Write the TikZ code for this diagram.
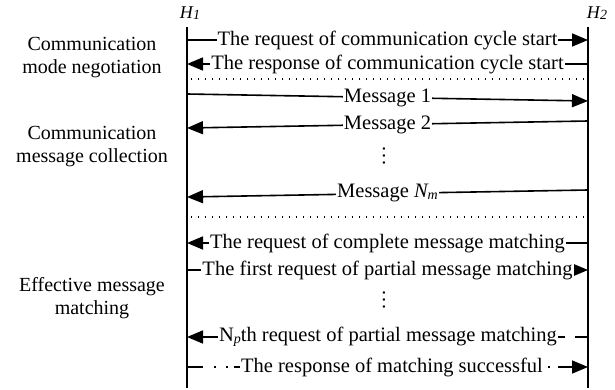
\documentclass[tikz,border=0pt]{standalone}
\usepackage{fontspec}
\setmainfont{Liberation Serif}
\usetikzlibrary{arrows.meta}

\begin{document}
\begin{tikzpicture}[x=1pt,y=-1pt,
  lifeline/.style={line width=1.8pt},
  msg/.style={line width=1.6pt},
  arr/.style={-{Triangle[length=16pt,width=13pt]}},
  lbl/.style={fill=white,inner xsep=1pt,inner ysep=2pt,font=\fontsize{20.5}{21}\selectfont},
  txt/.style={inner xsep=1pt,inner ysep=2pt,font=\fontsize{20.5}{21}\selectfont},
  vdot/.style={inner sep=0pt,rotate=-90,font=\fontsize{20}{20}\selectfont},
  phase/.style={align=center,font=\fontsize{20}{23}\selectfont},
  hostname/.style={font=\fontsize{18}{18}\selectfont\itshape},
  sep/.style={line width=1.3pt,dash pattern=on 1.3pt off 5.7pt},
]
\useasboundingbox (0,0) rectangle (615,390);

% hosts and lifelines
\node[hostname] (h1) at (190,13) {H\kern0.3pt\raisebox{-1.5pt}{\fontsize{14}{14}\selectfont 1}};
\node[hostname] (h2) at (597,13) {H\kern0.3pt\raisebox{-1.5pt}{\fontsize{14}{14}\selectfont 2}};
\coordinate (a1) at (187,27);
\coordinate (a2) at (187,388);
\coordinate (b1) at (588,27);
\coordinate (b2) at (588,388);
\draw[lifeline] (a1) -- (a2);
\draw[lifeline] (b1) -- (b2);

% phase labels
\node[phase] (p1) at (92,58) {Communication\\mode negotiation};
\node[phase] (p2) at (92,147) {Communication\\message collection};
\node[phase] (p3) at (92,298) {Effective message\\matching};

% phase 1: mode negotiation
\coordinate (l1) at (187,40);  \coordinate (r1) at (588,40);
\coordinate (l2) at (187,64);  \coordinate (r2) at (588,64);
\draw[msg,arr] (l1) -- node[lbl]{The request of communication cycle start} (r1);
\draw[msg,arr] (r2) -- node[lbl]{The response of communication cycle start} (l2);

\coordinate (s1l) at (191,79); \coordinate (s1r) at (585,79);
\draw[sep] (s1l) -- (s1r);

% phase 2: message collection
\coordinate (l3) at (187,94);  \coordinate (r3) at (588,101);
\coordinate (l4) at (187,128); \coordinate (r4) at (588,121);
\coordinate (l5) at (187,197); \coordinate (r5) at (588,190);
\draw[msg,arr] (l3) -- node[lbl]{Message 1} (r3);
\draw[msg,arr] (r4) -- node[lbl]{Message 2} (l4);
\node[vdot] (d1) at (384,156) {.\kern2.3pt.\kern2.3pt.};
\draw[msg,arr] (r5) -- node[lbl]{Message \textit{N\raisebox{-1.5pt}{\fontsize{14}{14}\selectfont m}}} (l5);

\coordinate (s2l) at (191,217); \coordinate (s2r) at (585,217);
\draw[sep] (s2l) -- (s2r);

% phase 3: message matching
\coordinate (l6) at (187,243); \coordinate (r6) at (588,243);
\coordinate (l7) at (187,270); \coordinate (r7) at (588,270);
\draw[msg,arr] (r6) -- node[lbl]{The request of complete message matching} (l6);
\draw[msg,arr] (l7) -- node[lbl]{The first request of partial message matching} (r7);
\node[vdot] (d2) at (384,300) {.\kern2.3pt.\kern2.3pt.};

\coordinate (l8) at (187,337); \coordinate (r8) at (588,337);
\node[txt] (m8) at (388,337) {N\raisebox{-1.5pt}{\fontsize{14}{14}\selectfont\itshape p}th request of partial message matching};
\draw[msg,arr] (m8.west) -- (l8);
\draw[msg,dash pattern=on 13pt off 10pt on 9pt off 20pt] (r8) -- (m8.east);

\coordinate (l9) at (187,367); \coordinate (r9) at (588,367);
\node[txt] (m9) at (392,367) {The response of matching successful};
\draw[msg,dash pattern=on 16pt off 11pt on 2pt off 10pt on 2pt off 6pt on 40pt] (l9) -- (m9.west);
\draw[msg,-{Triangle[length=16pt,width=13pt]},dash pattern=on 0pt off 4pt on 2pt off 8pt on 60pt] (m9.east) -- (r9);
\end{tikzpicture}
\end{document}
